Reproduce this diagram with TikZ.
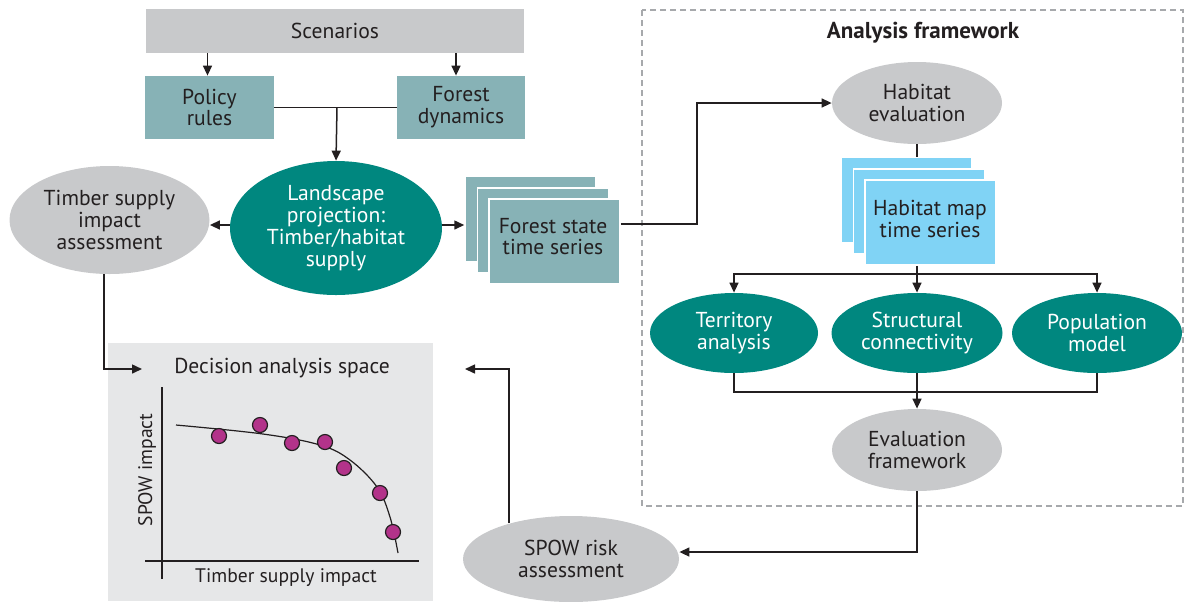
\documentclass[tikz,border=0pt]{standalone}
\usepackage{fontspec}
\setmainfont{PT Sans}
\usetikzlibrary{shapes.geometric,arrows.meta}
\definecolor{tealdark}{HTML}{00877F}
\definecolor{tealgray}{HTML}{87B2B6}
\definecolor{lgray}{HTML}{C8C9CB}
\definecolor{panel}{HTML}{E6E7E8}
\definecolor{skyb}{HTML}{80D3F5}
\definecolor{dotc}{HTML}{B3338A}
\definecolor{txt}{HTML}{231F20}
\definecolor{frame}{HTML}{A7A9AC}
\tikzset{
 every node/.style={font=\fontsize{10.8}{10.9}\selectfont, text=txt, align=center, inner sep=0pt},
 graybox/.style={rectangle, fill=lgray},
 tealbox/.style={rectangle, fill=tealgray},
 grayell/.style={ellipse, fill=lgray},
 tealell/.style={ellipse, fill=tealdark, text=white},
 stackA/.style={rectangle, fill=tealgray, draw=white, line width=0.75pt, minimum width=65.5pt, minimum height=42.5pt},
 stackB/.style={rectangle, fill=skyb, draw=white, line width=0.75pt, minimum width=65.5pt, minimum height=42.5pt},
 conn/.style={draw=txt, line width=0.75pt},
 arr/.style={conn, -{Triangle[length=5pt,width=4.5pt]}},
 thin/.style={draw=txt, line width=0.6pt},
 axlab/.style={font=\fontsize{9.8}{10}\selectfont},
 dotst/.style={circle, fill=dotc, draw=txt, line width=0.6pt, minimum size=7.5pt},
}
\begin{document}
\begin{tikzpicture}[x=0.5pt,y=-0.5pt]
\useasboundingbox (0,0) rectangle (1186,601);

% analysis framework frame
\draw[frame, line width=0.6pt, dash pattern=on 3pt off 2pt] (642,10) rectangle (1183,506);
\node[font=\fontsize{11.5}{12}\selectfont\bfseries] (aftitle) at (923,33) {Analysis framework};

% top
\node[graybox, minimum width=189pt, minimum height=22pt] (scen) at (335,31) {Scenarios};
\node[tealbox, minimum width=64.5pt, minimum height=31.5pt] (pol) at (209.5,107.5) {Policy\\rules};
\node[tealbox, minimum width=64pt, minimum height=31.5pt] (fd) at (461,107.5) {Forest\\dynamics};
\draw[arr] ([xshift=-1pt]pol.north |- scen.south) -- ([xshift=-1pt]pol.north);
\draw[arr] ([xshift=-2.5pt]fd.north |- scen.south) -- ([xshift=-2.5pt]fd.north);

\node[tealell, minimum width=106pt, minimum height=67pt] (land) at (336,228) {Landscape\\projection:\\Timber/habitat\\supply};
\node[grayell, minimum width=100pt, minimum height=54pt] (timber) at (109.5,220) {Timber supply\\impact\\assessment};

\draw[conn] (pol.east) -- (fd.west);
\coordinate (pj) at (337,107.5);
\draw[arr] (pj) -- (land.north);

% forest state stack
\node[stackA] (fsA) at (530.5,219) {};
\node[stackA] (fsB) at (543,230.5) {};
\node[stackA] (fsC) at (554.5,241.5) {};
\node (fstext) at (553,236.5) {Forest state\\time series};

\draw[arr] (land.west |- 0,225) -- (timber.east |- 0,225);
\draw[arr] (land.east |- 0,225) -- (fsA.west |- 0,225);

% habitat evaluation
\node[grayell, minimum width=85pt, minimum height=41pt] (heval) at (917,103) {Habitat\\evaluation};
\draw[arr] ([yshift=8.75pt]fsC.east) -- ++(76,0) |- (heval.west);

\node[stackB] (hsA) at (906.5,200) {};
\node[stackB] (hsB) at (919,211.5) {};
\node[stackB] (hsC) at (930.5,222.5) {};
\node (hstext) at (930,219) {Habitat map\\time series};
\draw[conn] (heval.south) -- (heval.south |- hsA.north);

% three analyses
\node[tealell, minimum width=84pt, minimum height=40pt] (terr) at (734,333) {Territory\\analysis};
\node[tealell, minimum width=85.5pt, minimum height=40pt] (struct) at (917,333) {Structural\\connectivity};
\node[tealell, minimum width=85pt, minimum height=40pt] (pop) at (1097,333) {Population\\model};

\coordinate (br) at (917,274);
\draw[conn] (br |- hsC.south) -- (br);
\draw[arr] (br) -- (struct.north);
\draw[arr] (br) -| (terr.north);
\draw[arr] (br) -| (pop.north);

\node[grayell, minimum width=85pt, minimum height=41pt] (evalf) at (917,450) {Evaluation\\framework};
\coordinate (jn) at (917,392);
\draw[conn] (terr.south) |- (jn) -| (pop.south);
\draw[arr] (struct.south) -- (evalf.north);

% SPOW risk
\node[grayell, minimum width=108pt, minimum height=43pt] (spow) at (571,559) {SPOW risk\\assessment};
\draw[arr] (evalf.south) |- ([yshift=3.5pt]spow.east);
\coordinate (dasR) at (465,369);
\draw[arr] (spow.150) |- (dasR);

% decision analysis space
\node[rectangle, fill=panel, minimum width=162.5pt, minimum height=129pt] (das) at (270.5,472) {};
\node (dastitle) at (282,368) {Decision analysis space};
\coordinate (dasL) at (142,369);
\draw[arr] ([xshift=-2.75pt]timber.south) |- (dasL);

\draw[thin] (162,387) -- (162,579);
\draw[thin] (145,561) -- (419,561);
\node[axlab, rotate=90] (ylab) at (147,470) {SPOW impact};
\node[axlab] (xlab) at (286,578) {Timber supply impact};
\draw[thin] plot[smooth, tension=0.6] coordinates {(176,425) (263,434) (320,445) (350,460) (377,487) (390,517) (398,553)};
\foreach \n/\p in {d1/{(219,436)}, d2/{(260,425)}, d3/{(292,443)}, d4/{(325,442)}, d5/{(344,468)}, d6/{(380,493)}, d7/{(393,532)}}
  \node[dotst] (\n) at \p {};
\end{tikzpicture}
\end{document}
